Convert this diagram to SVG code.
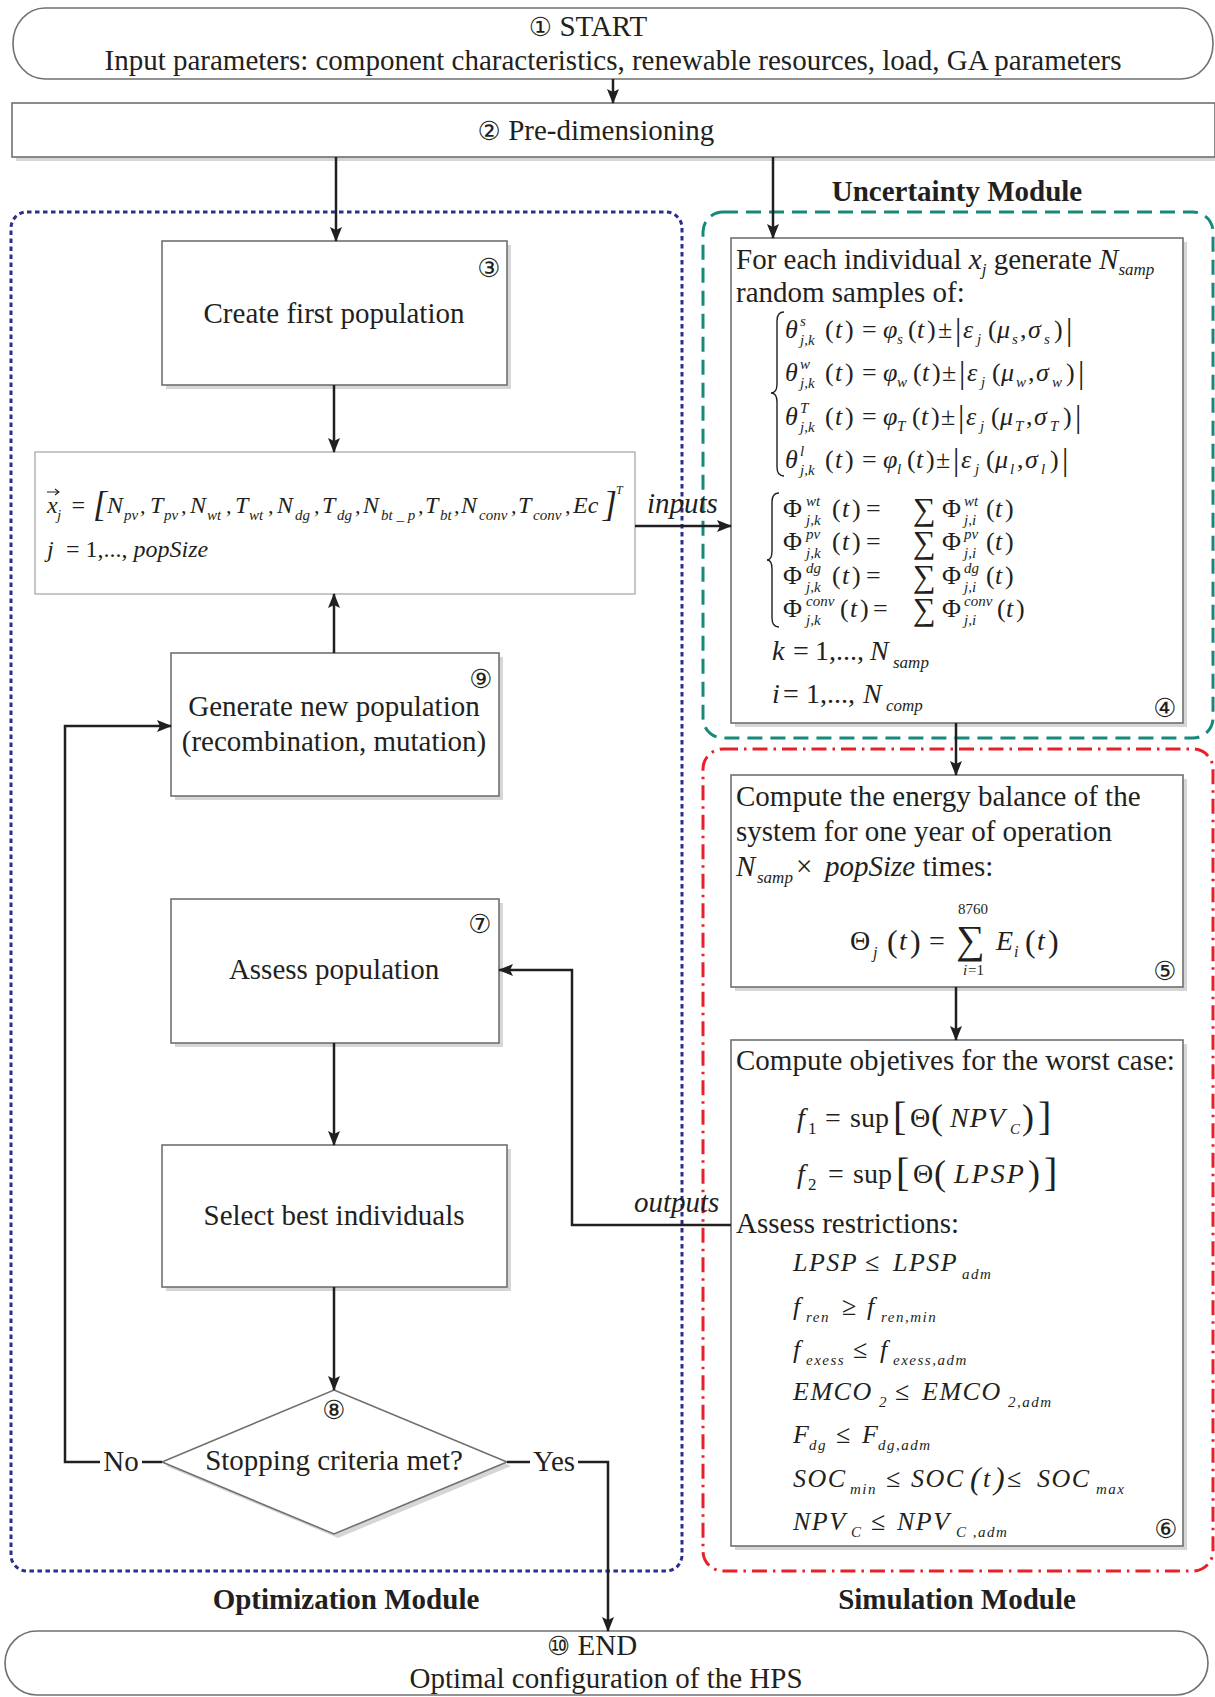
<svg xmlns="http://www.w3.org/2000/svg" width="1215" height="1697" viewBox="0 0 1215 1697">
<style>
text{font-family:"Liberation Serif","Times New Roman",serif;fill:#231f20}
.t{font-size:29px}
.c{text-anchor:middle}
.b{font-weight:bold}
.num{font-family:"DejaVu Sans","Noto Sans CJK SC",sans-serif;font-size:26px}
.mi{font-style:italic;font-size:26px}
.mr{font-size:26px}
.ms{font-style:italic;font-size:15px}
.msr{font-size:15px}
.box{fill:#fff;stroke:#707070;stroke-width:1.6}
.lbox{fill:#fff;stroke:#b0b0b0;stroke-width:1.4}
.sh{fill:#d6d6d6}
.conn{fill:none;stroke:#231f20;stroke-width:2.5}
.br{fill:none;stroke:#231f20;stroke-width:1.4}
.opt{fill:none;stroke:#2b2e8c;stroke-width:3;stroke-dasharray:4.5 3.5}
.unc{fill:none;stroke:#17897a;stroke-width:3;stroke-dasharray:15 8}
.sim{fill:none;stroke:#e8202a;stroke-width:3;stroke-dasharray:15 6 2.5 6}
</style>
<defs>
<marker id="ah" markerWidth="15" markerHeight="12" refX="14" refY="6" orient="auto" markerUnits="userSpaceOnUse">
<path d="M0,0 L15,6 L0,12 L3,6 z" fill="#231f20"/>
</marker>
</defs>
<rect width="1215" height="1697" fill="#fff"/>

<g id="modules">
<rect class="opt" x="11" y="212" width="671" height="1359" rx="16"/>
<rect class="unc" x="703" y="212" width="510" height="526" rx="20"/>
<rect class="sim" x="703" y="749" width="510" height="822" rx="20"/>
<text class="t b c" x="957" y="201">Uncertainty Module</text>
<text class="t b c" x="346" y="1609">Optimization Module</text>
<text class="t b c" x="957" y="1609">Simulation Module</text>
</g>

<g id="n1">
<rect class="box" x="13" y="8" width="1200" height="71" rx="32" ry="35"/>
<text class="t c" x="588" y="36"><tspan class="num">①</tspan> START</text>
<text class="t c" x="613" y="70">Input parameters: component characteristics, renewable resources, load, GA parameters</text>
</g>

<g id="n2">
<rect class="sh" x="16" y="107" width="1199" height="54"/>
<rect class="box" x="12" y="103" width="1203" height="54"/>
<text class="t c" x="596" y="140"><tspan class="num">②</tspan> Pre-dimensioning</text>
</g>

<g id="n3">
<rect class="sh" x="166" y="245" width="345" height="144"/>
<rect class="box" x="162" y="241" width="345" height="144"/>
<text class="num c" x="489" y="277">③</text>
<text class="t c" x="334" y="323">Create first population</text>
</g>

<g id="nx">
<rect class="lbox" x="35" y="452" width="600" height="142"/>
<path d="M47 492 H58 M55 489 L59 492 L55 495" fill="none" stroke="#231f20" stroke-width="1.1"/>
<text class="mi" style="font-size:24px" y="513">
<tspan x="47">x</tspan><tspan class="ms" x="57" y="520">j</tspan>
<tspan class="mr" x="70" y="513" style="font-size:24px">=</tspan>
<tspan class="mr" x="93" y="516" style="font-size:36px">[</tspan>
<tspan x="107" y="513">N</tspan><tspan class="ms" x="124" y="520">pv</tspan><tspan class="mr" x="140" y="513" style="font-size:22px">,</tspan>
<tspan x="150" y="513">T</tspan><tspan class="ms" x="164" y="520">pv</tspan><tspan class="mr" x="181" y="513" style="font-size:22px">,</tspan>
<tspan x="190" y="513">N</tspan><tspan class="ms" x="207" y="520">wt</tspan><tspan class="mr" x="226" y="513" style="font-size:22px">,</tspan>
<tspan x="235" y="513">T</tspan><tspan class="ms" x="249" y="520">wt</tspan><tspan class="mr" x="268" y="513" style="font-size:22px">,</tspan>
<tspan x="277" y="513">N</tspan><tspan class="ms" x="295" y="520">dg</tspan><tspan class="mr" x="314" y="513" style="font-size:22px">,</tspan>
<tspan x="322" y="513">T</tspan><tspan class="ms" x="337" y="520">dg</tspan><tspan class="mr" x="355" y="513" style="font-size:22px">,</tspan>
<tspan x="363" y="513">N</tspan><tspan class="ms" x="381" y="520">bt _ p</tspan><tspan class="mr" x="418" y="513" style="font-size:22px">,</tspan>
<tspan x="425" y="513">T</tspan><tspan class="ms" x="440" y="520">bt</tspan><tspan class="mr" x="454" y="513" style="font-size:22px">,</tspan>
<tspan x="461" y="513">N</tspan><tspan class="ms" x="479" y="520">conv</tspan><tspan class="mr" x="511" y="513" style="font-size:22px">,</tspan>
<tspan x="518" y="513">T</tspan><tspan class="ms" x="533" y="520">conv</tspan><tspan class="mr" x="565" y="513" style="font-size:22px">,</tspan>
<tspan x="573" y="513">Ec</tspan>
<tspan class="mr" x="603" y="516" style="font-size:36px">]</tspan><tspan class="ms" x="616" y="494" style="font-size:12px">T</tspan>
</text>
<text class="mr" style="font-size:24px" y="557"><tspan class="mi" style="font-size:24px" x="47">j</tspan><tspan x="60"> = 1,..., </tspan><tspan class="mi" style="font-size:24px">popSize</tspan></text>
</g>

<g id="n9">
<rect class="sh" x="175" y="657" width="328" height="143"/>
<rect class="box" x="171" y="653" width="328" height="143"/>
<text class="num c" x="481" y="688">⑨</text>
<text class="t c" x="334" y="716">Generate new population</text>
<text class="t c" x="334" y="751">(recombination, mutation)</text>
</g>

<g id="n7">
<rect class="sh" x="175" y="903" width="328" height="144"/>
<rect class="box" x="171" y="899" width="328" height="144"/>
<text class="num c" x="480" y="933">⑦</text>
<text class="t c" x="334" y="979">Assess population</text>
</g>

<g id="nsel">
<rect class="sh" x="166" y="1149" width="345" height="142"/>
<rect class="box" x="162" y="1145" width="345" height="142"/>
<text class="t c" x="334" y="1225">Select best individuals</text>
</g>

<g id="n8">
<polygon class="sh" points="338,1394 511,1466 338,1538 166,1466"/>
<polygon class="box" points="334,1390 507,1462 334,1534 162,1462"/>
<text class="num c" x="334" y="1419">⑧</text>
<text class="t c" x="334" y="1470">Stopping criteria met?</text>
</g>

<g id="n4">
<rect class="sh" x="735" y="242" width="452" height="485"/>
<rect class="box" x="731" y="238" width="452" height="485"/>
<text class="t" y="269"><tspan x="736">For each individual </tspan><tspan class="mi" style="font-size:29px">x</tspan><tspan class="ms" style="font-size:17px" dy="6">j</tspan><tspan dy="-6"> generate </tspan><tspan class="mi" style="font-size:29px">N</tspan><tspan class="ms" style="font-size:17px" dy="6">samp</tspan></text>
<text class="t" x="736" y="302">random samples of:</text>
<path class="br" d="M784 312 Q777 312 777 321 L777 384 Q777 393 771 393 Q777 393 777 402 L777 467 Q777 476 784 476"/>
<text class="mr" y="338">
<tspan class="mi" x="785" y="338">θ</tspan><tspan class="ms" x="800" y="326">s</tspan><tspan class="ms" x="800" y="345">j,k</tspan>
<tspan x="825" y="338">(</tspan><tspan class="mi" x="835" y="338">t</tspan><tspan x="845" y="338">)</tspan>
<tspan x="862" y="338">=</tspan>
<tspan class="mi" x="883" y="338">φ</tspan><tspan class="ms" x="897" y="344">s</tspan>
<tspan x="908" y="338">(</tspan><tspan class="mi" x="917" y="338">t</tspan><tspan x="927" y="338">)</tspan>
<tspan x="938" y="338">±</tspan><tspan x="955" y="340" style="font-size:32px">|</tspan>
<tspan class="mi" x="963" y="338">ε</tspan><tspan class="ms" x="977" y="344">j</tspan>
<tspan x="988" y="338">(</tspan><tspan class="mi" x="997" y="338">μ</tspan><tspan class="ms" x="1012" y="344">s</tspan>
<tspan x="1020" y="338">,</tspan><tspan class="mi" x="1028" y="338">σ</tspan><tspan class="ms" x="1044" y="344">s</tspan>
<tspan x="1054" y="338">)</tspan><tspan x="1066" y="340" style="font-size:32px">|</tspan>
</text>
<text class="mr" y="381">
<tspan class="mi" x="785" y="381">θ</tspan><tspan class="ms" x="800" y="369">w</tspan><tspan class="ms" x="800" y="388">j,k</tspan>
<tspan x="825" y="381">(</tspan><tspan class="mi" x="835" y="381">t</tspan><tspan x="845" y="381">)</tspan>
<tspan x="862" y="381">=</tspan>
<tspan class="mi" x="883" y="381">φ</tspan><tspan class="ms" x="897" y="387">w</tspan>
<tspan x="913" y="381">(</tspan><tspan class="mi" x="922" y="381">t</tspan><tspan x="932" y="381">)</tspan>
<tspan x="942" y="381">±</tspan><tspan x="959" y="383" style="font-size:32px">|</tspan>
<tspan class="mi" x="967" y="381">ε</tspan><tspan class="ms" x="981" y="387">j</tspan>
<tspan x="992" y="381">(</tspan><tspan class="mi" x="1001" y="381">μ</tspan><tspan class="ms" x="1016" y="387">w</tspan>
<tspan x="1028" y="381">,</tspan><tspan class="mi" x="1036" y="381">σ</tspan><tspan class="ms" x="1052" y="387">w</tspan>
<tspan x="1066" y="381">)</tspan><tspan x="1078" y="383" style="font-size:32px">|</tspan>
</text>
<text class="mr" y="425">
<tspan class="mi" x="785" y="425">θ</tspan><tspan class="ms" x="800" y="413">T</tspan><tspan class="ms" x="800" y="432">j,k</tspan>
<tspan x="825" y="425">(</tspan><tspan class="mi" x="835" y="425">t</tspan><tspan x="845" y="425">)</tspan>
<tspan x="862" y="425">=</tspan>
<tspan class="mi" x="883" y="425">φ</tspan><tspan class="ms" x="897" y="431">T</tspan>
<tspan x="912" y="425">(</tspan><tspan class="mi" x="921" y="425">t</tspan><tspan x="931" y="425">)</tspan>
<tspan x="941" y="425">±</tspan><tspan x="958" y="427" style="font-size:32px">|</tspan>
<tspan class="mi" x="966" y="425">ε</tspan><tspan class="ms" x="980" y="431">j</tspan>
<tspan x="991" y="425">(</tspan><tspan class="mi" x="1000" y="425">μ</tspan><tspan class="ms" x="1015" y="431">T</tspan>
<tspan x="1026" y="425">,</tspan><tspan class="mi" x="1034" y="425">σ</tspan><tspan class="ms" x="1050" y="431">T</tspan>
<tspan x="1063" y="425">)</tspan><tspan x="1075" y="427" style="font-size:32px">|</tspan>
</text>
<text class="mr" y="468">
<tspan class="mi" x="785" y="468">θ</tspan><tspan class="ms" x="800" y="456">l</tspan><tspan class="ms" x="800" y="475">j,k</tspan>
<tspan x="825" y="468">(</tspan><tspan class="mi" x="835" y="468">t</tspan><tspan x="845" y="468">)</tspan>
<tspan x="862" y="468">=</tspan>
<tspan class="mi" x="883" y="468">φ</tspan><tspan class="ms" x="897" y="474">l</tspan>
<tspan x="907" y="468">(</tspan><tspan class="mi" x="916" y="468">t</tspan><tspan x="926" y="468">)</tspan>
<tspan x="936" y="468">±</tspan><tspan x="953" y="470" style="font-size:32px">|</tspan>
<tspan class="mi" x="961" y="468">ε</tspan><tspan class="ms" x="975" y="474">j</tspan>
<tspan x="986" y="468">(</tspan><tspan class="mi" x="995" y="468">μ</tspan><tspan class="ms" x="1010" y="474">l</tspan>
<tspan x="1017" y="468">,</tspan><tspan class="mi" x="1025" y="468">σ</tspan><tspan class="ms" x="1041" y="474">l</tspan>
<tspan x="1050" y="468">)</tspan><tspan x="1062" y="470" style="font-size:32px">|</tspan>
</text>

<path class="br" d="M779 493 Q772 493 772 502 L772 551 Q772 560 767 560 Q772 560 772 569 L772 618 Q772 627 779 627"/>
<text class="mr">
<tspan x="783" y="517">Φ</tspan><tspan class="ms" x="806" y="506">wt</tspan><tspan class="ms" x="806" y="525">j,k</tspan>
<tspan x="832" y="517">(</tspan><tspan class="mi" x="842" y="517">t</tspan><tspan x="852" y="517">)</tspan><tspan x="866" y="517">=</tspan>
<tspan x="913" y="520" style="font-size:32px">∑</tspan>
<tspan x="942" y="517">Φ</tspan><tspan class="ms" x="964" y="506">wt</tspan><tspan class="ms" x="964" y="525">j,i</tspan>
<tspan x="986" y="517">(</tspan><tspan class="mi" x="995" y="517">t</tspan><tspan x="1005" y="517">)</tspan>
</text>
<text class="mr">
<tspan x="783" y="550">Φ</tspan><tspan class="ms" x="806" y="539">pv</tspan><tspan class="ms" x="806" y="558">j,k</tspan>
<tspan x="832" y="550">(</tspan><tspan class="mi" x="842" y="550">t</tspan><tspan x="852" y="550">)</tspan><tspan x="866" y="550">=</tspan>
<tspan x="913" y="553" style="font-size:32px">∑</tspan>
<tspan x="942" y="550">Φ</tspan><tspan class="ms" x="964" y="539">pv</tspan><tspan class="ms" x="964" y="558">j,i</tspan>
<tspan x="986" y="550">(</tspan><tspan class="mi" x="995" y="550">t</tspan><tspan x="1005" y="550">)</tspan>
</text>
<text class="mr">
<tspan x="783" y="584">Φ</tspan><tspan class="ms" x="806" y="573">dg</tspan><tspan class="ms" x="806" y="592">j,k</tspan>
<tspan x="832" y="584">(</tspan><tspan class="mi" x="842" y="584">t</tspan><tspan x="852" y="584">)</tspan><tspan x="866" y="584">=</tspan>
<tspan x="913" y="587" style="font-size:32px">∑</tspan>
<tspan x="942" y="584">Φ</tspan><tspan class="ms" x="964" y="573">dg</tspan><tspan class="ms" x="964" y="592">j,i</tspan>
<tspan x="986" y="584">(</tspan><tspan class="mi" x="995" y="584">t</tspan><tspan x="1005" y="584">)</tspan>
</text>
<text class="mr">
<tspan x="783" y="617">Φ</tspan><tspan class="ms" x="806" y="606">conv</tspan><tspan class="ms" x="806" y="625">j,k</tspan>
<tspan x="840" y="617">(</tspan><tspan class="mi" x="850" y="617">t</tspan><tspan x="860" y="617">)</tspan><tspan x="873" y="617">=</tspan>
<tspan x="913" y="620" style="font-size:32px">∑</tspan>
<tspan x="942" y="617">Φ</tspan><tspan class="ms" x="964" y="606">conv</tspan><tspan class="ms" x="964" y="625">j,i</tspan>
<tspan x="997" y="617">(</tspan><tspan class="mi" x="1006" y="617">t</tspan><tspan x="1016" y="617">)</tspan>
</text>
<text class="mr" style="font-size:28px"><tspan class="mi" style="font-size:28px" x="772" y="660">k</tspan><tspan x="793" y="660">=</tspan><tspan x="815" y="660">1,...,</tspan><tspan class="mi" style="font-size:28px" x="870" y="660">N</tspan><tspan class="ms" style="font-size:17px" x="893" y="668">samp</tspan></text>
<text class="mr" style="font-size:28px"><tspan class="mi" style="font-size:28px" x="772" y="703">i</tspan><tspan x="783" y="703">=</tspan><tspan x="806" y="703">1,...,</tspan><tspan class="mi" style="font-size:28px" x="863" y="703">N</tspan><tspan class="ms" style="font-size:17px" x="886" y="711">comp</tspan></text>
<text class="num c" x="1165" y="717">④</text>
</g>

<g id="n5">
<rect class="sh" x="735" y="779" width="452" height="212"/>
<rect class="box" x="731" y="775" width="452" height="212"/>
<text class="t" x="736" y="806">Compute the energy balance of the</text>
<text class="t" x="736" y="841">system for one year of operation</text>
<text class="t" y="876"><tspan class="mi" style="font-size:29px" x="736">N</tspan><tspan class="ms" style="font-size:17px" x="757" y="883">samp</tspan><tspan x="796" y="876">×</tspan><tspan class="mi" style="font-size:29px" x="825" y="876">popSize</tspan><tspan> times:</tspan></text>
<text class="mr" style="font-size:28px">
<tspan x="850" y="950">Θ</tspan><tspan class="ms" style="font-size:16px" x="873" y="958">j</tspan>
<tspan x="887" y="952" style="font-size:32px">(</tspan><tspan class="mi" style="font-size:28px" x="899" y="950">t</tspan><tspan x="910" y="952" style="font-size:32px">)</tspan>
<tspan x="929" y="950">=</tspan>
<tspan x="956" y="953" style="font-size:40px">∑</tspan>
<tspan class="msr" x="958" y="914">8760</tspan>
<tspan class="ms" x="963" y="975">i</tspan><tspan class="msr" x="968" y="975">=1</tspan>
<tspan class="mi" style="font-size:28px" x="996" y="950">E</tspan><tspan class="ms" style="font-size:16px" x="1014" y="957">i</tspan>
<tspan x="1025" y="952" style="font-size:32px">(</tspan><tspan class="mi" style="font-size:28px" x="1037" y="950">t</tspan><tspan x="1048" y="952" style="font-size:32px">)</tspan>
</text>
<text class="num c" x="1165" y="980">⑤</text>
</g>

<g id="n6">
<rect class="sh" x="735" y="1044" width="452" height="506"/>
<rect class="box" x="731" y="1040" width="452" height="506"/>
<text class="t" x="736" y="1070">Compute objetives for the worst case:</text>
<text class="mr" style="font-size:28px">
<tspan class="mi" style="font-size:28px" x="797" y="1127">f</tspan><tspan class="msr" style="font-size:17px" x="808" y="1134">1</tspan>
<tspan x="825" y="1127">=</tspan><tspan x="850" y="1127">sup</tspan>
<tspan x="893" y="1130" style="font-size:40px">[</tspan><tspan x="910" y="1127">Θ</tspan>
<tspan x="931" y="1129" style="font-size:36px">(</tspan>
<tspan class="mi" style="font-size:28px;letter-spacing:1px" x="950" y="1127">NPV</tspan><tspan class="ms" x="1010" y="1134">C</tspan>
<tspan x="1022" y="1129" style="font-size:36px">)</tspan><tspan x="1038" y="1130" style="font-size:40px">]</tspan>
</text>
<text class="mr" style="font-size:28px">
<tspan class="mi" style="font-size:28px" x="797" y="1183">f</tspan><tspan class="msr" style="font-size:17px" x="808" y="1190">2</tspan>
<tspan x="828" y="1183">=</tspan><tspan x="853" y="1183">sup</tspan>
<tspan x="896" y="1186" style="font-size:40px">[</tspan><tspan x="913" y="1183">Θ</tspan>
<tspan x="934" y="1185" style="font-size:36px">(</tspan>
<tspan class="mi" style="font-size:28px;letter-spacing:2px" x="954" y="1183">LPSP</tspan>
<tspan x="1028" y="1185" style="font-size:36px">)</tspan><tspan x="1044" y="1186" style="font-size:40px">]</tspan>
</text>
<text class="t" x="736" y="1233">Assess restrictions:</text>
<text class="mi" style="letter-spacing:1.5px"><tspan x="793" y="1271">LPSP</tspan><tspan class="mr" x="865" y="1271">≤</tspan><tspan x="893" y="1271">LPSP</tspan><tspan class="ms" x="962" y="1279">adm</tspan></text>
<text class="mi" style="letter-spacing:1.5px"><tspan x="793" y="1315">f</tspan><tspan class="ms" x="806" y="1322">ren</tspan><tspan class="mr" x="842" y="1315">≥</tspan><tspan x="867" y="1315">f</tspan><tspan class="ms" x="881" y="1322">ren,min</tspan></text>
<text class="mi" style="letter-spacing:1.5px"><tspan x="793" y="1358">f</tspan><tspan class="ms" x="806" y="1365">exess</tspan><tspan class="mr" x="853" y="1358">≤</tspan><tspan x="880" y="1358">f</tspan><tspan class="ms" x="893" y="1365">exess,adm</tspan></text>
<text class="mi" style="letter-spacing:1.5px"><tspan x="793" y="1400">EMCO</tspan><tspan class="msr" x="879" y="1407">2</tspan><tspan class="mr" x="895" y="1400">≤</tspan><tspan x="922" y="1400">EMCO</tspan><tspan class="ms" x="1008" y="1407">2,adm</tspan></text>
<text class="mi" style="letter-spacing:1.5px"><tspan x="793" y="1443">F</tspan><tspan class="ms" x="809" y="1450">dg</tspan><tspan class="mr" x="836" y="1443">≤</tspan><tspan x="862" y="1443">F</tspan><tspan class="ms" x="878" y="1450">dg,adm</tspan></text>
<text class="mi" style="letter-spacing:1.5px"><tspan x="793" y="1487">SOC</tspan><tspan class="ms" x="850" y="1494">min</tspan><tspan class="mr" x="886" y="1487">≤</tspan><tspan x="911" y="1487">SOC</tspan><tspan class="mr" x="970" y="1489" style="font-size:32px">(</tspan><tspan x="983" y="1487">t</tspan><tspan class="mr" x="994" y="1489" style="font-size:32px">)</tspan><tspan class="mr" x="1007" y="1487">≤</tspan><tspan x="1037" y="1487">SOC</tspan><tspan class="ms" x="1096" y="1494">max</tspan></text>
<text class="mi" style="letter-spacing:1.5px"><tspan x="793" y="1530">NPV</tspan><tspan class="ms" x="851" y="1537">C</tspan><tspan class="mr" x="871" y="1530">≤</tspan><tspan x="897" y="1530">NPV</tspan><tspan class="ms" x="956" y="1537">C ,adm</tspan></text>
<text class="num c" x="1166" y="1538">⑥</text>
</g>

<g id="n10">
<rect class="box" x="5" y="1631" width="1203" height="64" rx="32" ry="32"/>
<text class="t c" x="592" y="1655"><tspan class="num">⑩</tspan> END</text>
<text class="t c" x="606" y="1688">Optimal configuration of the HPS</text>
</g>

<g id="connectors">
<path class="conn" d="M613 79 V103" marker-end="url(#ah)"/>
<path class="conn" d="M336 157 V241" marker-end="url(#ah)"/>
<path class="conn" d="M773 157 V238" marker-end="url(#ah)"/>
<path class="conn" d="M334 385 V452" marker-end="url(#ah)"/>
<path class="conn" d="M334 653 V594" marker-end="url(#ah)"/>
<path class="conn" d="M635 526 H731" marker-end="url(#ah)"/>
<path class="conn" d="M956 723 V775" marker-end="url(#ah)"/>
<path class="conn" d="M956 987 V1040" marker-end="url(#ah)"/>
<path class="conn" d="M731 1225 H572 V970 H499" marker-end="url(#ah)"/>
<path class="conn" d="M334 1043 V1145" marker-end="url(#ah)"/>
<path class="conn" d="M334 1287 V1390" marker-end="url(#ah)"/>
<path class="conn" d="M162 1462 H142"/>
<path class="conn" d="M100 1462 H65 V726 H171" marker-end="url(#ah)"/>
<path class="conn" d="M507 1462 H530"/>
<path class="conn" d="M578 1462 H608 V1631" marker-end="url(#ah)"/>
<text class="t c" x="121" y="1471">No</text>
<text class="t c" x="554" y="1471">Yes</text>
<text class="t" x="647" y="513" style="font-style:italic">inputs</text>
<text class="t" x="634" y="1212" style="font-style:italic">outputs</text>
</g>
</svg>
